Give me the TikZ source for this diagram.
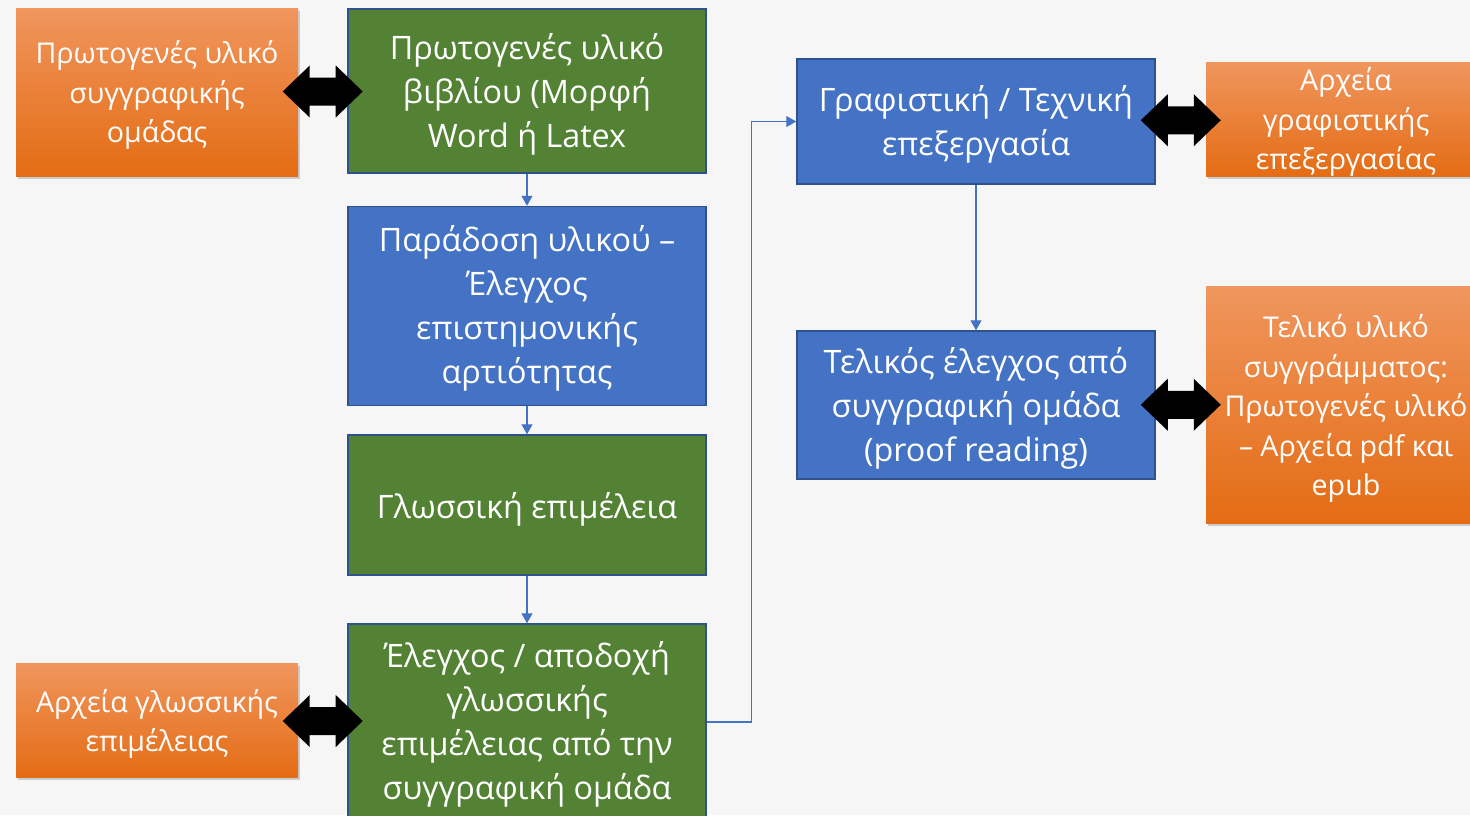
\documentclass[tikz,border=0pt]{standalone}
\usepackage{fontspec}
\setmainfont{Open Sans}
\usetikzlibrary{arrows.meta,shadows,calc}
\definecolor{bg}{HTML}{F6F6F6}
\definecolor{grn}{HTML}{548235}
\definecolor{blu}{HTML}{4472C4}
\definecolor{edge}{HTML}{2F528F}
\definecolor{orTop}{HTML}{F0965E}
\definecolor{orBot}{HTML}{E46C14}
\tikzset{
  box/.style={draw=edge, line width=1.5pt, inner sep=0pt},
  gbox/.style={box, fill=grn},
  bbox/.style={box, fill=blu},
  obox/.style={inner sep=0pt, top color=orTop, bottom color=orBot,
    drop shadow={opacity=0.35, shadow xshift=2pt, shadow yshift=-3pt}},
  btxt/.style={text=white, align=center, inner sep=0pt, font=\fontsize{32.3}{44}\selectfont},
  otxt/.style={text=white, align=center, inner sep=0pt, font=\fontsize{28.6}{39.5}\selectfont},
  conn/.style={draw=blu, line width=1.1pt, -{Triangle[length=10pt,width=11pt]}},
  dbl/.pic={\fill[black] (-40,0) -- (-13,-26) -- (-13,-14) -- (13,-14) -- (13,-26) -- (40,0)
     -- (13,26) -- (13,14) -- (-13,14) -- (-13,26) -- cycle;}
}
\begin{document}
\begin{tikzpicture}[x=1pt,y=-1pt]
\useasboundingbox (0,0) rectangle (1470,815);
\clip (0,0) rectangle (1470,815);
\fill[bg] (0,0) rectangle (1470,815);

% left column
\node[obox, minimum width=282, minimum height=168] (o1) at (157,92) {};
\node[otxt] (o1t) at ($(o1)+(0,3)$) {Πρωτογενές υλικό\\συγγραφικής\\ομάδας};
\node[obox, minimum width=282, minimum height=114] (o2) at (157,720) {};
\node[otxt] (o2t) at ($(o2)+(0,4)$) {Αρχεία γλωσσικής\\επιμέλειας};

% middle column
\node[gbox, minimum width=358, minimum height=164] (g1) at (527,91) {};
\node[btxt] (g1t) at ($(g1)+(0,3.5)$) {Πρωτογενές υλικό\\βιβλίου (Μορφή\\Word ή Latex};
\node[bbox, minimum width=358, minimum height=199] (b2) at (527,306) {};
\node[btxt] (b2t) at ($(b2)+(0,2.5)$) {Παράδοση υλικού –\\Έλεγχος\\επιστημονικής\\αρτιότητας};
\node[gbox, minimum width=358, minimum height=140] (g3) at (527,505) {};
\node[btxt] (g3t) at ($(g3)+(0,4.5)$) {Γλωσσική επιμέλεια};
\node[gbox, minimum width=358, minimum height=196] (g4) at (527,722) {};
\node[btxt] (g4t) at ($(g4)+(0,2)$) {Έλεγχος / αποδοχή\\γλωσσικής\\επιμέλειας από την\\συγγραφική ομάδα};

% right column
\node[bbox, minimum width=358, minimum height=125] (b5) at (976,121.5) {};
\node[btxt] (b5t) at ($(b5)+(0,3)$) {Γραφιστική / Τεχνική\\επεξεργασία};
\node[bbox, minimum width=358, minimum height=148] (b6) at (976,405) {};
\node[btxt] (b6t) at ($(b6)+(0,3)$) {Τελικός έλεγχος από\\συγγραφική ομάδα\\(proof reading)};
\node[obox, minimum width=280, minimum height=114] (o3) at (1346,119) {};
\node[otxt] (o3t) at ($(o3)+(0,3)$) {Αρχεία\\γραφιστικής\\επεξεργασίας};
\node[obox, minimum width=280, minimum height=237] (o4) at (1346,404.5) {};
\node[otxt] (o4t) at ($(o4)+(0,4)$) {Τελικό υλικό\\συγγράμματος:\\Πρωτογενές υλικό\\– Αρχεία pdf και\\epub};

% connectors
\draw[conn] (g1) -- (b2);
\draw[conn] (b2) -- (g3);
\draw[conn] (g3) -- (g4);
\coordinate (mid) at ($(g4.east)!0.5!(b5.west)$);
\draw[conn] (g4.east) -| (mid) |- (b5.west);
\draw[conn] (b5) -- (b6);

% double arrows
\pic at ($(o1.east)!0.5!(g1.west)$ |- 0,91) {dbl};
\pic at ($(o2.east)!0.5!(g4.west)$ |- 0,724) {dbl};
\pic at ($(b5.east)!0.5!(o3.west)$ |- 0,117) {dbl};
\pic at ($(b6.east)!0.5!(o4.west)$ |- 0,402) {dbl};
\end{tikzpicture}
\end{document}
